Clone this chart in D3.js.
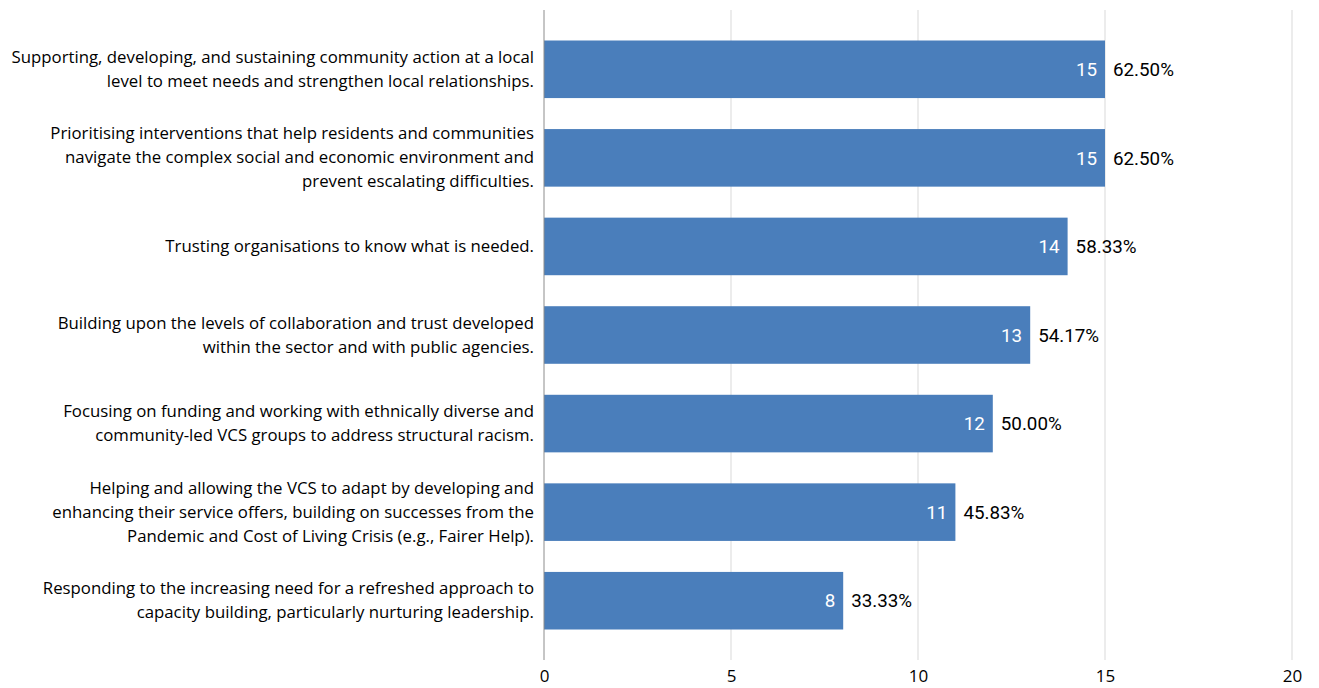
<!DOCTYPE html>
<html><head><meta charset="utf-8">
<script src="https://cdn.jsdelivr.net/npm/d3@7"></script>
<style>body{margin:0;background:#fff}</style>
</head><body>
<svg id="chart" width="1319" height="688"></svg>
<script>
const categories = [
  ["Supporting, developing, and sustaining community action at a local","level to meet needs and strengthen local relationships."],
  ["Prioritising interventions that help residents and communities","navigate the complex social and economic environment and","prevent escalating difficulties."],
  ["Trusting organisations to know what is needed."],
  ["Building upon the levels of collaboration and trust developed","within the sector and with public agencies."],
  ["Focusing on funding and working with ethnically diverse and","community-led VCS groups to address structural racism."],
  ["Helping and allowing the VCS to adapt by developing and","enhancing their service offers, building on successes from the","Pandemic and Cost of Living Crisis (e.g., Fairer Help)."],
  ["Responding to the increasing need for a refreshed approach to","capacity building, particularly nurturing leadership."]
];
const counts = [15, 15, 14, 13, 12, 11, 8];
const percents = ["62.50%", "62.50%", "58.33%", "54.17%", "50.00%", "45.83%", "33.33%"];
const ticks = [0, 5, 10, 15, 20];

const svg = d3.select("#chart");
const x = d3.scaleLinear().domain([0, 20]).range([544, 1292]);
const y = d3.scaleBand().domain(d3.range(categories.length)).range([25, 645]).paddingInner(0.35).paddingOuter(0.175);

// gridlines
svg.append("g").selectAll("line").data(ticks.slice(1)).join("line")
  .attr("x1", d => x(d)).attr("x2", d => x(d))
  .attr("y1", 10).attr("y2", 660)
  .attr("stroke", "#d9d9d9").attr("stroke-width", 1);

// bars
svg.append("g").selectAll("rect").data(counts).join("rect")
  .attr("x", x(0)).attr("y", (d, i) => y(i))
  .attr("width", d => x(d) - x(0)).attr("height", y.bandwidth())
  .attr("fill", "#4a7ebb");

// axis line
svg.append("line").attr("x1", x(0)).attr("x2", x(0)).attr("y1", 10).attr("y2", 660)
  .attr("stroke", "#8c8c8c").attr("stroke-width", 1);

// tick labels
const axis = d3.axisBottom(x).tickValues(ticks).tickSize(0).tickPadding(0);
const ga = svg.append("g").attr("transform", "translate(0,682)").call(axis);
ga.select(".domain").remove();
ga.selectAll("text").attr("font-family", "'Open Sans', sans-serif").attr("font-size", 17).attr("fill", "#000").attr("dy", "0");

// value labels inside
svg.append("g").selectAll("text").data(counts).join("text")
  .attr("x", d => x(d) - 8).attr("y", (d, i) => y(i) + y.bandwidth() / 2)
  .attr("dy", "0.36em").attr("text-anchor", "end")
  .attr("font-family", "Roboto, sans-serif").attr("font-size", 18.8).attr("fill", "#fff")
  .text(d => d);

// percent labels
svg.append("g").selectAll("text").data(counts).join("text")
  .attr("x", d => x(d) + 8).attr("y", (d, i) => y(i) + y.bandwidth() / 2)
  .attr("dy", "0.36em")
  .attr("font-family", "Roboto, sans-serif").attr("font-size", 18.8).attr("fill", "#000")
  .text((d, i) => percents[i]);

// category labels
const lh = 24;
const cg = svg.append("g").selectAll("text").data(categories).join("text")
  .attr("text-anchor", "end")
  .attr("font-family", "'Open Sans', sans-serif").attr("font-size", 16.8).attr("fill", "#000");
cg.each(function(lines, i) {
  const cy = y(i) + y.bandwidth() / 2;
  const start = cy - (lines.length - 1) * lh / 2;
  d3.select(this).selectAll("tspan").data(lines).join("tspan")
    .attr("x", 534).attr("y", (l, j) => start + j * lh).attr("dy", "0.33em").text(l => l);
});
</script>
</body></html>
